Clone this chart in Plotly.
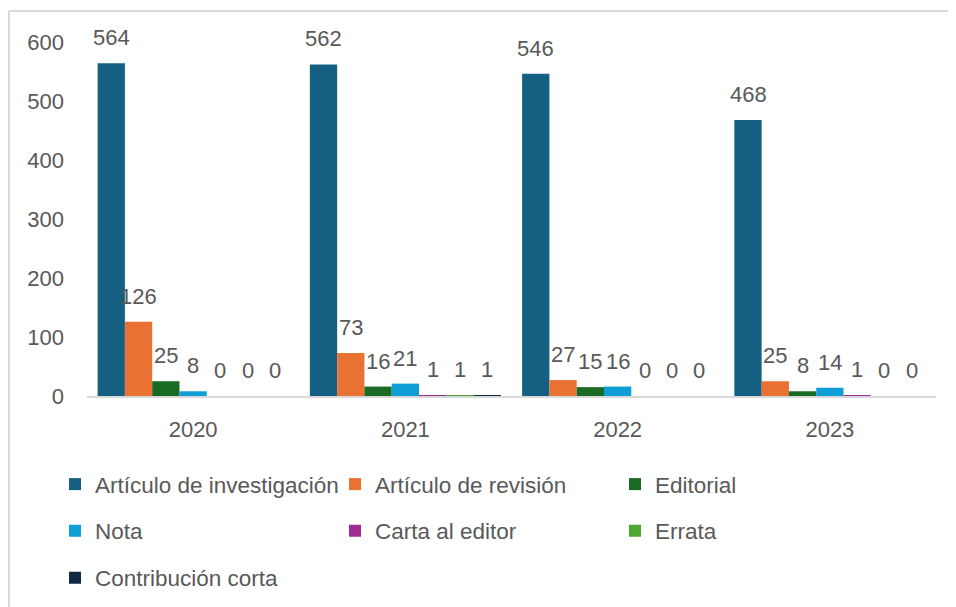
import plotly.graph_objects as go

# Publicaciones por tipo y año
years = ['2020', '2021', '2022', '2023']
series_names = [
    'Artículo de investigación',
    'Artículo de revisión',
    'Editorial',
    'Nota',
    'Carta al editor',
    'Errata',
    'Contribución corta',
]
investigacion = [564, 562, 546, 468]
revision = [126, 73, 27, 25]
editorial = [25, 16, 15, 8]
nota = [8, 21, 16, 14]
carta = [0, 1, 0, 1]
errata = [0, 1, 0, 0]
contribucion = [0, 1, 0, 0]
y_ticks = [0, 100, 200, 300, 400, 500, 600]

COLORS = ['#156082', '#E97132', '#196B24', '#0F9ED5', '#A02B93', '#4EA72E', '#0E2841']
TEXT = '#595959'
FONT = 'Liberation Sans, Arial, sans-serif'

# the page body has an 8px margin, so the figure is sized to fit the window
OFF = 8
W, H = 956 - OFF, 607 - OFF
M = dict(l=87 - OFF, r=20, t=42 - OFF, b=H - (396 - OFF), autoexpand=False)
BARGAP = 0.1

all_values = [investigacion, revision, editorial, nota, carta, errata, contribucion]
legend_of = ['legend', 'legend', 'legend', 'legend2', 'legend2', 'legend2', 'legend3']

fig = go.Figure()
for name, vals, color, leg in zip(series_names, all_values, COLORS, legend_of):
    fig.add_trace(go.Bar(
        x=years, y=vals, name=name,
        marker=dict(color=color, line=dict(width=0)),
        legend=leg,
    ))

# data labels above each bar (x given as category index)
plot_w = W - M['l'] - M['r']
plot_h = H - M['t'] - M['b']
bar_px = plot_w / len(years) * (1 - BARGAP) / len(series_names)
n = len(series_names)
for i, vals in enumerate(all_values):
    for k, v in enumerate(vals):
        fig.add_annotation(
            x=k, y=v, text=str(v), showarrow=False,
            xshift=(i - (n - 1) / 2) * bar_px, yanchor='bottom', yshift=11,
            font=dict(size=22, color=TEXT, family=FONT),
        )


def px_x(p):
    # reference-picture pixel -> paper fraction
    return (p - OFF - M['l']) / plot_w


def px_y(p):
    return (H - M['b'] - (p - OFF)) / plot_h


# chart border (top and left visible)
border = dict(color='#D9D9D9', width=2)
fig.add_shape(type='line', xref='paper', yref='paper',
              x0=px_x(9), x1=px_x(980), y0=px_y(11), y1=px_y(11), line=border)
fig.add_shape(type='line', xref='paper', yref='paper',
              x0=px_x(9), x1=px_x(9), y0=px_y(11), y1=px_y(640), line=border)

legend_common = dict(
    orientation='h', xanchor='left', yanchor='middle',
    x=px_x(55), entrywidth=235, entrywidthmode='pixels',
    font=dict(size=22.5, color=TEXT, family=FONT),
    bgcolor='rgba(0,0,0,0)', itemclick=False,
)

fig.update_layout(
    width=W, height=H, margin=M,
    paper_bgcolor='white', plot_bgcolor='white',
    font=dict(family=FONT, size=22, color=TEXT),
    barmode='group', bargap=BARGAP, bargroupgap=0,
    showlegend=True,
    legend=dict(legend_common, y=px_y(484.5)),
    legend2=dict(legend_common, y=px_y(531)),
    legend3=dict(legend_common, y=px_y(578)),
    xaxis=dict(
        type='category', range=[-0.5, len(years) - 0.5],
        showline=True, linecolor='#D9D9D9', linewidth=2,
        showgrid=False, ticks='', ticklabelstandoff=13,
        tickfont=dict(size=22, color=TEXT, family=FONT),
    ),
    yaxis=dict(
        range=[0, 600], tickvals=y_ticks,
        showgrid=False, zeroline=False, showline=False,
        ticks='', ticklabelstandoff=22,
        tickfont=dict(size=22, color=TEXT, family=FONT),
    ),
)

fig.write_html('out.html')
